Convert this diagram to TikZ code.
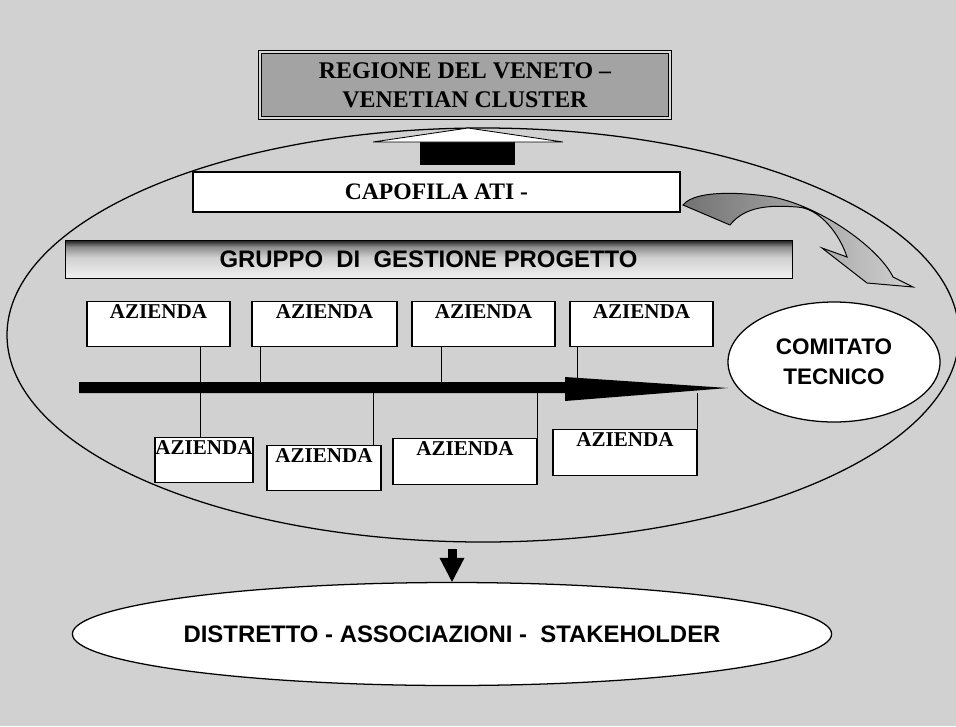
\documentclass[tikz,border=0pt]{standalone}
\usepackage{fontspec}
\setmainfont{Liberation Serif}
\setsansfont{Liberation Sans}
\usetikzlibrary{shapes.geometric,calc}
\pgfdeclareverticalshading{ggpshade}{100bp}{color(0bp)=(black!6); color(25bp)=(black!6); color(52bp)=(black!18); color(66bp)=(black!45); color(75bp)=(black!90); color(100bp)=(black!90)}

\begin{document}
\begin{tikzpicture}[scale=0.25]
\tikzstyle{every node}+=[inner sep=0pt]
\tikzstyle{azbox}=[draw=black, fill=white, line width=0.9pt, font=\fontsize{15}{15}\selectfont\bfseries, text height=12pt, text depth=20.5pt]
\tikzstyle{sanstext}=[font=\sffamily\bfseries\fontsize{17}{21}\selectfont]
\tikzstyle{hline}=[black, line width=0.6pt]
% sfondo
\fill [black!18] (0,0) rectangle (95.6,-72.6);
\useasboundingbox (0,0) rectangle (95.6,-72.6);
\clip (0,0) rectangle (95.6,-72.6);
% regione
\node [draw=black, fill=black!36, line width=0.5pt, double=black!15, double distance=1.2pt,
  minimum width=10.25cm, minimum height=1.65cm, align=center,
  font=\fontsize{17}{20.5}\selectfont\bfseries] (reg) at (46.5,-8.5) {REGIONE DEL VENETO --\\VENETIAN CLUSTER};
% cluster
\node [draw=black, ellipse, line width=0.9pt, minimum width=23.8cm, minimum height=10.35cm] (cluster) at (48.3,-33.5) {};
% freccia verso la regione
\fill [black] (42,-13.7) rectangle (51.5,-16.5);
\draw [black, fill=white, line width=0.6pt] (37.3,-14.2) -- (56.3,-14.2) -- (46.8,-12.8) -- cycle;
% capofila
\node [draw=black, fill=white, line width=0.9pt, minimum width=12.175cm, minimum height=1cm,
  font=\fontsize{16.8}{17}\selectfont\bfseries] (capo) at (43.65,-19.2) {CAPOFILA ATI -};
% freccia curva
\draw [black, line width=0.7pt, left color=black!55, right color=black!18]
  (68.3,-20.5) .. controls (69.5,-19) and (74,-19.2) .. (77.3,-19.7)
  .. controls (82.5,-20.8) and (88,-25) .. (89.3,-27.7) -- (91.3,-28.7)
  -- (86.7,-28.3) -- (82.2,-24.8) -- (84.7,-25.7)
  .. controls (84,-23.5) and (82,-20.8) .. (79.7,-20.7)
  .. controls (77,-20.5) and (74.5,-20.6) .. (73,-22.5) -- cycle;
% gruppo di gestione
\node [draw=black, line width=0.6pt, shading=ggpshade, minimum width=18.175cm, minimum height=0.95cm,
  sanstext] (ggp) at (42.85,-25.9) {GRUPPO\ \ DI\ \ GESTIONE PROGETTO};
% aziende
\node [azbox, minimum width=3.575cm] (a1) at (15.85,-32.4) {AZIENDA};
\node [azbox, minimum width=3.625cm] (a2) at (32.45,-32.4) {AZIENDA};
\node [azbox, minimum width=3.575cm] (a3) at (48.35,-32.4) {AZIENDA};
\node [azbox, minimum width=3.575cm] (a4) at (64.15,-32.4) {AZIENDA};
\node [azbox, minimum width=2.45cm] (b1) at (20.4,-46) {AZIENDA};
\node [azbox, minimum width=2.85cm] (b2) at (32.4,-46.8) {AZIENDA};
\node [azbox, minimum width=3.6cm] (b3) at (46.5,-46.15) {AZIENDA};
\node [azbox, minimum width=3.6cm] (b4) at (62.5,-45.25) {AZIENDA};
% comitato
\node [draw=black, fill=white, ellipse, line width=0.9pt, minimum width=5.3cm, minimum height=3cm,
  align=center, font=\sffamily\bfseries\fontsize{16}{21}\selectfont] (comit) at (83.4,-36.2) {COMITATO\\TECNICO};
% freccia orizzontale
\coordinate (ft) at (7.9,-38.2);
\coordinate (fb) at (7.9,-39.3);
\fill [black] (ft) -- (56.5,-38.2) -- (56.5,-37.7) -- (72.8,-38.8) -- (56.5,-40.1) -- (56.5,-39.3) -- (fb) -- cycle;
% collegamenti
\coordinate (c1) at (20,0);
\coordinate (c2) at (26,0);
\coordinate (c3) at (44.1,0);
\coordinate (c4) at (57.7,0);
\coordinate (c5) at (37.3,0);
\draw [hline] (a1.south -| c1) -- (b1.north -| c1);
\draw [hline] (a2.south -| c2) -- (c2 |- ft);
\draw [hline] (a3.south -| c3) -- (c3 |- ft);
\draw [hline] (a4.south -| c4) -- (c4 |- ft);
\draw [hline] (c5 |- fb) -- (b2.north -| c5);
\draw [hline] (b3.north east |- fb) -- (b3.north east);
\draw [hline] (b4.north east |- fb) -- (b4.north east);
% distretto
\node [draw=black, fill=white, ellipse, line width=0.9pt, minimum width=18.6cm, minimum height=2.575cm,
  sanstext] (distr) at (45.2,-63.4) {DISTRETTO - ASSOCIAZIONI -\ \ STAKEHOLDER};
% freccia verso il distretto
\fill [black] ($(distr.north)+(-0.45,3.3)$) rectangle ($(distr.north)+(0.45,2.4)$);
\fill [black] ($(distr.north)+(-1.25,2.4)$) -- ($(distr.north)+(1.25,2.4)$) -- (distr.north) -- cycle;
\end{tikzpicture}
\end{document}
